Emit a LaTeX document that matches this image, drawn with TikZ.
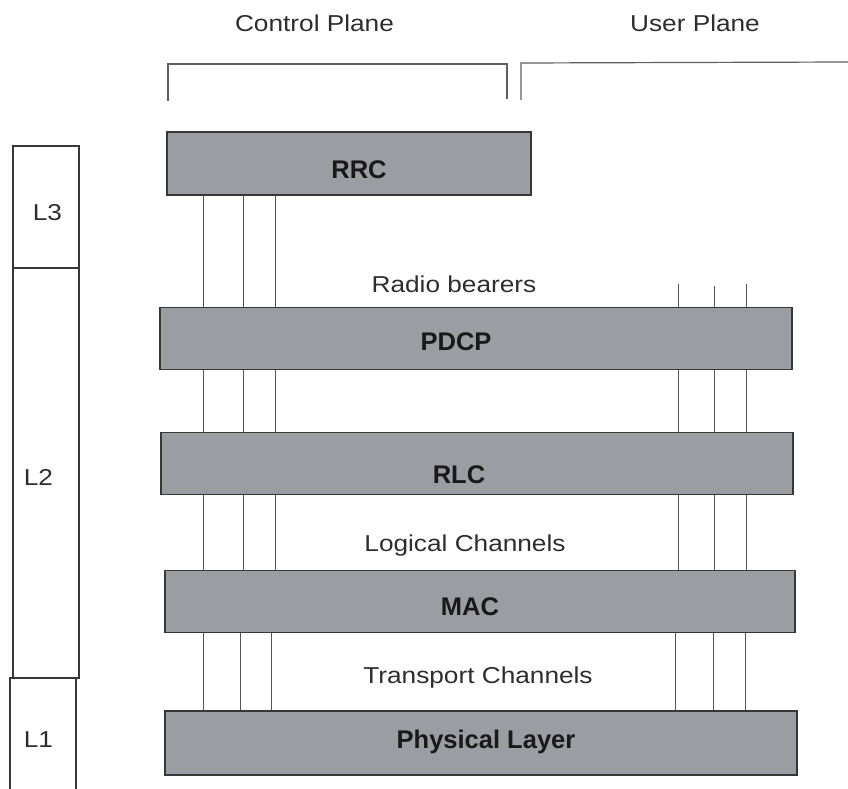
\documentclass[tikz,border=0pt]{standalone}
\usepackage{fontspec}
\setmainfont{Liberation Sans}
\usetikzlibrary{backgrounds}
\definecolor{boxfill}{RGB}{156,156,163}
\definecolor{boxline}{RGB}{55,55,55}
\definecolor{wirecol}{RGB}{85,85,85}
\definecolor{txt}{RGB}{45,45,45}
\newcommand{\wtxt}[1]{\scalebox{1.14}[1]{#1}}
\begin{document}
\begin{tikzpicture}[x=1pt,y=-1pt,
  layerbox/.style={draw=boxline, line width=1.8pt, fill=boxfill, inner sep=0pt, outer sep=0pt},
  lbl/.style={anchor=base, font=\bfseries\fontsize{25.5}{30}\selectfont, text=black!90, inner sep=0pt},
  captxt/.style={anchor=base, font=\fontsize{23}{28}\selectfont, text=txt, inner sep=0pt},
  wire/.style={draw=wirecol, line width=1pt},
  colbox/.style={draw=boxline, line width=1.2pt, inner sep=0pt, outer sep=0pt},
  bracket/.style={draw=boxline!80, line width=1.2pt}]
\useasboundingbox (0,0) rectangle (848,789);

% plane headings
\node[captxt] (cp) at (314.5,32) {\wtxt{Control Plane}};
\node[captxt] (up) at (695,32) {\wtxt{User Plane}};
\draw[bracket] (168,101) -- (168,64) -- (507,64) -- (507,99);
\draw[bracket] (521,100) -- (521,63) -- (848,62);

% layer column
\node[colbox, minimum width=66pt, minimum height=122pt] (l3box) at (46,207) {};
\node[colbox, minimum width=66pt, minimum height=410pt] (l2box) at (46,473) {};
\draw[colbox] (10,789) -- (10,678) -- (76,678) -- (76,789);
\node[captxt] (l3) at (47.5,220) {\wtxt{L3}};
\node[captxt] (l2) at (38.5,485) {\wtxt{L2}};
\node[captxt] (l1) at (38.5,747) {\wtxt{L1}};

% protocol boxes
\node[layerbox, minimum width=364pt, minimum height=63pt] (rrc) at (349,163.5) {};
\node[layerbox, minimum width=632pt, minimum height=62pt] (pdcp) at (476,338.5) {};
\node[layerbox, minimum width=632pt, minimum height=62pt] (rlc) at (477,463.5) {};
\node[layerbox, minimum width=630pt, minimum height=62pt] (mac) at (480,601.5) {};
\node[layerbox, minimum width=632pt, minimum height=64pt] (phy) at (481,743) {};

\node[lbl] (trrc) at (359,178) {RRC};
\node[lbl] (tpdcp) at (456,350.5) {PDCP};
\node[lbl] (trlc) at (459,483.5) {RLC};
\node[lbl] (tmac) at (470,615) {MAC};
\node[lbl] (tphy) at (486,748) {Physical Layer};

% channel captions
\node[captxt] (rb) at (454,292) {\wtxt{Radio bearers}};
\node[captxt] (lc) at (465,551) {\wtxt{Logical Channels}};
\node[captxt] (tc) at (478,683) {\wtxt{Transport Channels}};

% connector x positions
\coordinate (a1) at (203,0);
\coordinate (a2) at (243,0);
\coordinate (a3) at (275,0);
\coordinate (b1) at (203,0);
\coordinate (b2) at (240,0);
\coordinate (b3) at (271,0);
\coordinate (u1) at (678,284);
\coordinate (u2) at (714,286);
\coordinate (u3) at (746,284);
\coordinate (v1) at (675,0);
\coordinate (v2) at (713,0);
\coordinate (v3) at (745,0);

\begin{scope}[on background layer]
  \foreach \c in {a1,a2,a3} {
    \draw[wire] (\c |- rrc.south) -- (\c |- pdcp.north);
    \draw[wire] (\c |- pdcp.south) -- (\c |- rlc.north);
    \draw[wire] (\c |- rlc.south) -- (\c |- mac.north);
  }
  \foreach \c in {b1,b2,b3} {
    \draw[wire] (\c |- mac.south) -- (\c |- phy.north);
  }
  \foreach \c in {u1,u2,u3} {
    \draw[wire] (\c) -- (\c |- pdcp.north);
    \draw[wire] (\c |- pdcp.south) -- (\c |- rlc.north);
    \draw[wire] (\c |- rlc.south) -- (\c |- mac.north);
  }
  \foreach \c in {v1,v2,v3} {
    \draw[wire] (\c |- mac.south) -- (\c |- phy.north);
  }
\end{scope}
\end{tikzpicture}
\end{document}
